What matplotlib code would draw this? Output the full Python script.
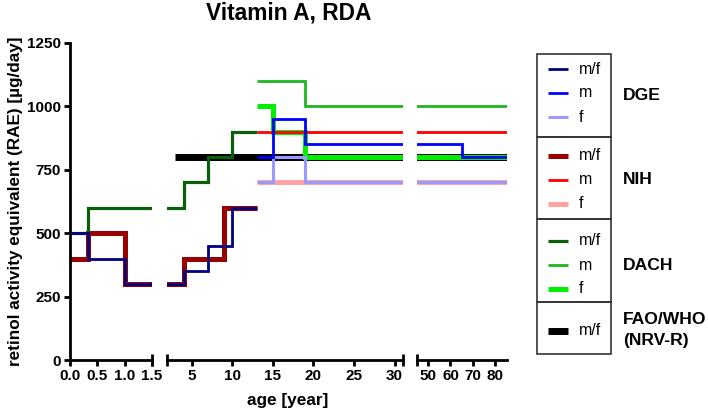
import matplotlib.pyplot as plt
from matplotlib.patches import Rectangle

plt.rcParams['font.family'] = ['Liberation Sans', 'DejaVu Sans']

# step edges (age, years) and RDA values (ug/day)
dge_mf_age = [0, 0.33, 1, 4, 7, 10, 13]
dge_mf_val = [500, 400, 300, 350, 450, 600]
dge_m_age = [13, 15, 19, 65, 85]
dge_m_val = [800, 950, 850, 800]
dge_f_age = [13, 15, 19, 85]
dge_f_val = [700, 800, 700]

nih_mf_age = [0, 0.33, 1, 4, 9, 13]
nih_mf_val = [400, 500, 300, 400, 600]
nih_m_age = [13, 85]
nih_m_val = [900]
nih_f_age = [13, 85]
nih_f_val = [700]

dach_mf_age = [0, 0.33, 4, 7, 10, 13]
dach_mf_val = [500, 600, 700, 800, 900]
dach_m_age = [13, 19, 85]
dach_m_val = [1100, 1000]
dach_f_age = [13, 15, 19, 85]
dach_f_val = [1000, 900, 800]

fao_mf_age = [3, 85]
fao_mf_val = [800]

# (edges, values, colour, linewidth) in drawing order, bottom first
series = [
    (fao_mf_age, fao_mf_val, 'black', 5.0),
    (nih_f_age, nih_f_val, '#ffa3a3', 3.6),
    (nih_mf_age, nih_mf_val, '#990000', 3.6),
    (dach_mf_age, dach_mf_val, '#0b5e0b', 2.3),
    (dach_f_age, dach_f_val, '#00ee00', 3.6),
    (dach_m_age, dach_m_val, '#1fb51f', 2.0),
    (nih_m_age, nih_m_val, '#ff0000', 2.0),
    (dge_f_age, dge_f_val, '#9999ff', 2.2),
    (dge_mf_age, dge_mf_val, '#000080', 2.0),
    (dge_m_age, dge_m_val, '#0000ff', 2.0),
]

seg_lims = [(0, 1.5), (2, 31), (45, 85)]
seg_ticks = [[0, 0.5, 1, 1.5], [5, 10, 15, 20, 25, 30], [50, 60, 70, 80]]
seg_labels = [['0.0', '0.5', '1.0', '1.5'], ['5', '10', '15', '20', '25', '30'],
              ['50', '60', '70', '80']]
seg_px = [(70, 152), (167.3, 402.7), (416.7, 506.7)]

W, H = 708, 416
fig = plt.figure(figsize=(W / 100, H / 100), dpi=100)
bot, top = 360, 43

axes = []
for i, (x0, x1) in enumerate(seg_px):
    ax = fig.add_axes([x0 / W, 1 - bot / H, (x1 - x0) / W, (bot - top) / H])
    for edges, vals, col, lw in series:
        ax.stairs(vals, edges, baseline=None, color=col, lw=lw)
    ax.set_xlim(*seg_lims[i])
    ax.set_ylim(0, 1250)
    ax.set_xticks(seg_ticks[i])
    ax.set_xticklabels(seg_labels[i], fontweight='bold', fontsize=11)
    ax.spines['top'].set_visible(False)
    ax.spines['right'].set_visible(False)
    ax.spines['bottom'].set_linewidth(2)
    ax.spines['left'].set_linewidth(2)
    ax.tick_params(width=2, length=4.5, pad=2)
    if i > 0:
        ax.spines['left'].set_visible(False)
        ax.tick_params(axis='y', left=False, labelleft=False)
    else:
        ax.set_yticks([0, 250, 500, 750, 1000, 1250])
        ax.set_yticklabels(['0', '250', '500', '750', '1000', '1250'],
                           fontweight='bold', fontsize=11)
        ax.set_ylabel('retinol activity equivalent (RAE) [µg/day]',
                      fontweight='bold', fontsize=12.3, labelpad=3)
    # break bars at the segment ends
    ends = {0: [1], 1: [0, 1], 2: [0]}[i]
    ax.plot(ends, [0] * len(ends), transform=ax.transAxes, ls='none',
            marker='|', markersize=8, mew=2, color='black', clip_on=False)
    axes.append(ax)

fig.text(289 / W, 1 - 13 / H, 'Vitamin A, RDA', ha='center', va='center',
         fontweight='bold', fontsize=16.4)
fig.text(288 / W, 1 - 401 / H, 'age [year]', ha='center', va='center',
         fontweight='bold', fontsize=12.4)

# legend drawn by hand on an overlay in pixel coordinates
lg = fig.add_axes([0, 0, 1, 1])
lg.set_xlim(0, W)
lg.set_ylim(H, 0)
lg.axis('off')

box_y = [54, 136.7, 219, 301.7, 354]
for j in range(4):
    lg.add_patch(Rectangle((537, box_y[j]), 74, box_y[j + 1] - box_y[j],
                           fill=False, ec='#333333', lw=1.2))

rows = [
    (69, '#000080', 2.0, 'm/f'), (92.7, '#0000ff', 2.0, 'm'), (117.3, '#9999ff', 2.2, 'f'),
    (155.7, '#990000', 3.6, 'm/f'), (180, '#ff0000', 2.0, 'm'), (203.7, '#ffa3a3', 3.6, 'f'),
    (240.7, '#0b5e0b', 2.3, 'm/f'), (265, '#1fb51f', 2.0, 'm'), (288.7, '#00ee00', 3.6, 'f'),
    (330.7, 'black', 5.0, 'm/f'),
]
for y, col, lw, txt in rows:
    lg.plot([548, 567.5], [y, y], color=col, lw=lw, solid_capstyle='butt')
    lg.text(579, y, txt, va='center', ha='left', fontsize=11.5)

groups = [(95, 'DGE'), (180, 'NIH'), (265, 'DACH'), (330, 'FAO/WHO\n(NRV-R)')]
for y, txt in groups:
    lg.text(623, y, txt, va='center', ha='left', fontweight='bold', fontsize=12.6,
            linespacing=1.45)

fig.savefig('out.png', dpi=100)
